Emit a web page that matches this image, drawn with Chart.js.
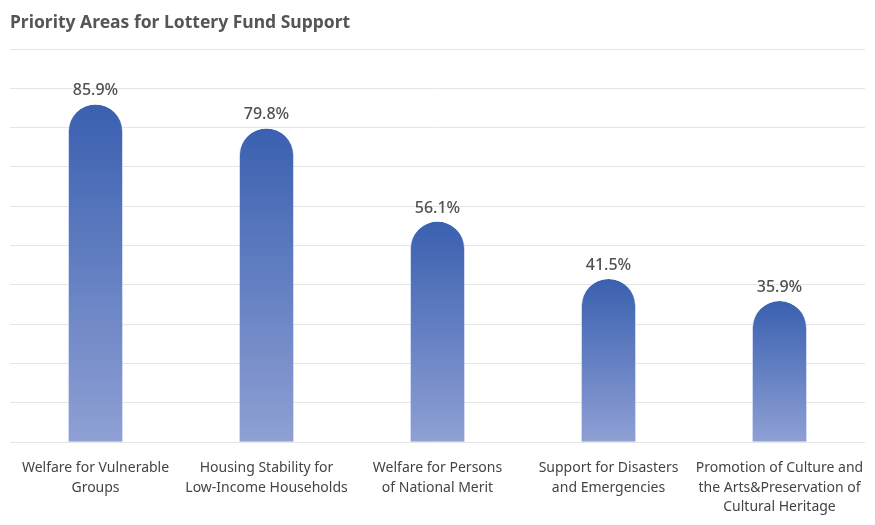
<!DOCTYPE html>
<html>
<head>
<meta charset="utf-8">
<script src="https://cdn.jsdelivr.net/npm/chart.js@4/dist/chart.umd.min.js"></script>
<style>
html,body{margin:0;padding:0;background:#fff;}
#wrap{width:875px;height:525px;position:relative;}
</style>
</head>
<body>
<div id="wrap"><canvas id="c" width="875" height="525"></canvas></div>
<script>
const titleText = "Priority Areas for Lottery Fund Support";
const categories = [
  ["Welfare for Vulnerable", "Groups"],
  ["Housing Stability for", "Low-Income Households"],
  ["Welfare for Persons", "of National Merit"],
  ["Support for Disasters", "and Emergencies"],
  ["Promotion of Culture and", "the Arts&Preservation of", "Cultural Heritage"]
];
const values = [85.9, 79.8, 56.1, 41.5, 35.9];

const FONT = "'Noto Sans', 'Open Sans', sans-serif";

const valueLabels = {
  id: 'valueLabels',
  afterDatasetsDraw(chart) {
    const ctx = chart.ctx;
    const meta = chart.getDatasetMeta(0);
    ctx.save();
    ctx.font = "500 16px " + FONT;
    ctx.fillStyle = "#505050";
    ctx.textAlign = "center";
    ctx.textBaseline = "alphabetic";
    meta.data.forEach((bar, i) => {
      ctx.fillText(values[i].toFixed(1) + "%", bar.x, bar.y - 9);
    });
    ctx.restore();
  }
};

new Chart(document.getElementById('c'), {
  type: 'bar',
  data: {
    labels: categories,
    datasets: [{
      data: values,
      backgroundColor(context) {
        const chart = context.chart;
        const area = chart.chartArea;
        if (!area || !context.parsed) return '#5a78c0';
        const yScale = chart.scales.y;
        const top = yScale.getPixelForValue(context.parsed.y);
        const bottom = yScale.getPixelForValue(0);
        const g = chart.ctx.createLinearGradient(0, top, 0, bottom);
        g.addColorStop(0, '#3a60b0');
        g.addColorStop(1, '#8fa0d4');
        return g;
      },
      borderColor: 'rgba(180,195,235,0.6)',
      borderWidth: {left: 1, right: 1, top: 0, bottom: 0},
      borderRadius: 100,
      borderSkipped: 'bottom',
      barPercentage: 0.322,
      categoryPercentage: 1.0
    }]
  },
  options: {
    responsive: false,
    animation: false,
    devicePixelRatio: 1,
    layout: { padding: { left: 10, right: 10, top: 0, bottom: 7 } },
    plugins: {
      legend: { display: false },
      tooltip: { enabled: false },
      title: {
        display: true,
        text: titleText,
        align: 'start',
        color: '#555555',
        font: { family: FONT, size: 17.5, weight: 'bold' },
        padding: { top: 13, bottom: 15 }
      }
    },
    scales: {
      y: {
        min: 0, max: 100,
        ticks: { display: false, stepSize: 10 },
        grid: { color: '#e5e5e5', drawTicks: false, lineWidth: 1 },
        border: { display: false }
      },
      x: {
        ticks: {
          color: '#444444',
          font: { family: FONT, size: 14, lineHeight: 1.4 },
          padding: 1,
          maxRotation: 0,
          autoSkip: false
        },
        grid: {
          display: true,
          drawOnChartArea: false,
          drawTicks: true,
          tickLength: 15,
          color: 'rgba(0,0,0,0)'
        },
        border: { display: false }
      }
    }
  },
  plugins: [valueLabels]
});
</script>
</body>
</html>
